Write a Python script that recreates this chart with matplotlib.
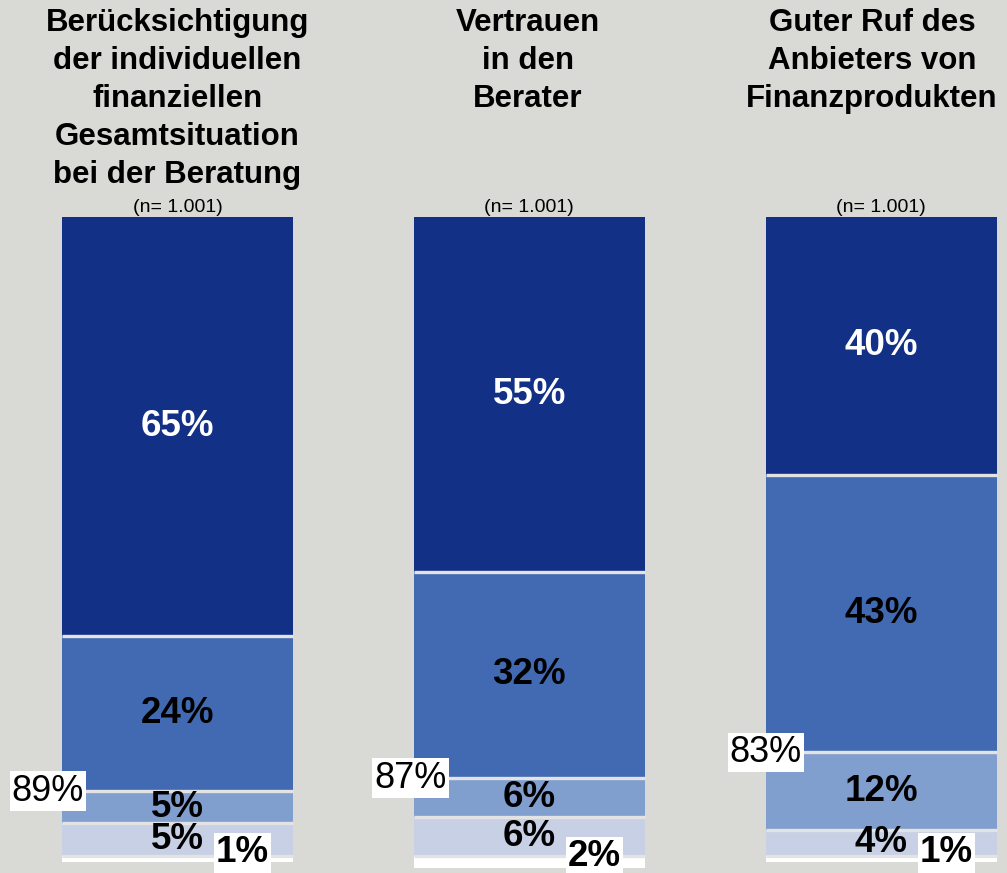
import matplotlib.pyplot as plt
import numpy as np

plt.rcParams['font.family'] = ['Liberation Sans', 'DejaVu Sans']

############
# DATEN
############

titel = ['Berücksichtigung\nder individuellen\nfinanziellen\nGesamtsituation\nbei der Beratung',
         'Vertrauen\nin den\nBerater',
         'Guter Ruf des\nAnbieters von\nFinanzprodukten']
n_label = ['(n= 1.001)', '(n= 1.001)', '(n= 1.001)']
# Segmente von oben nach unten
werte = np.array([[65, 24, 5, 5, 1],
                  [55, 32, 6, 6, 2],
                  [40, 43, 12, 4, 1]])
top2 = [89, 87, 83]
farben = ['#123186', '#426ab3', '#819fce', '#c7d0e4', '#ffffff']
text_farben = ['white', 'black', 'black', 'black', 'black']

############
# PLOT
############

bg = '#d9d9d5'
fig = plt.figure(figsize=(10.07, 8.73), dpi=100, facecolor=bg)
ax = fig.add_axes([0, 0, 1, 1])
ax.set_facecolor(bg)
ax.set_xlim(-0.504, 2.357)
ax.set_ylim(101.7, -33.6)
ax.axis('off')

x = np.arange(len(titel))
breite = 0.656
start = np.zeros(len(titel))
for i in range(werte.shape[1]):
    ax.bar(x, werte[:, i], breite, bottom=start, color=farben[i], linewidth=0)
    for j in range(len(x)):
        v = werte[j, i]
        mitte = start[j] + v / 2
        if i > 0:
            ax.hlines(start[j], x[j] - breite / 2, x[j] + breite / 2,
                      color='#e3e3e3', linewidth=2.4, zorder=3)
        if i < 4:
            ax.text(x[j], mitte, f'{v}%', ha='center', va='center',
                    fontsize=26.5, fontweight='bold', color=text_farben[i], zorder=4)
        else:
            ax.text(x[j] + 0.185, mitte - 0.9, f'{v}%', ha='center', va='center',
                    fontsize=26.5, fontweight='bold', color='black', zorder=5,
                    bbox=dict(facecolor='white', edgecolor='none', pad=1.5))
    start += werte[:, i]

# Summe der oberen zwei Segmente, links an der Saeule
versatz = [-0.04, -0.01, 0.0]
for j in range(len(x)):
    ax.text(x[j] - breite / 2 + versatz[j], top2[j], f'{top2[j]}%', ha='center', va='center',
            fontsize=26, color='black', zorder=5,
            bbox=dict(facecolor='white', edgecolor='none', pad=1.5))
    ax.text(x[j], -1.4, n_label[j], ha='center', va='center', fontsize=14)

titel_x = [x[0], x[1] - 0.005, x[2] - 0.027]
for j in range(len(x)):
    ax.text(titel_x[j], -32.4, titel[j], ha='center', va='top',
            fontsize=22.5, fontweight='bold', linespacing=1.35)

fig.savefig('out.png', dpi=100, facecolor=bg)
